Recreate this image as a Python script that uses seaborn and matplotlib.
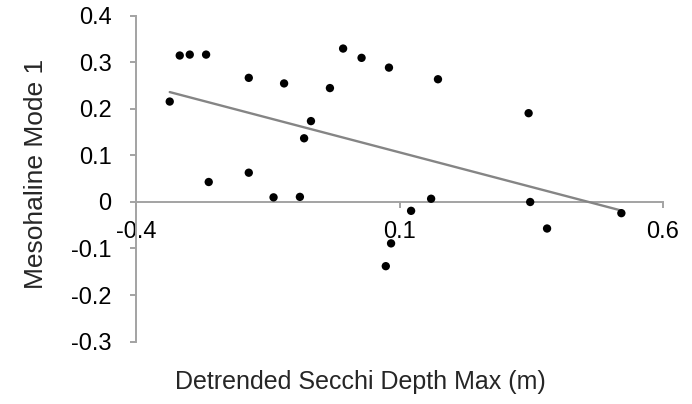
"""
Scatter of Mesohaline Mode 1 vs detrended Secchi depth max, with linear trendline.
Run: python plot.py
"""
import matplotlib
matplotlib.use("Agg")
import matplotlib.pyplot as plt
import seaborn as sns
import pandas as pd

# values
secchi_x = [-0.336, -0.317, -0.298, -0.267, -0.262, -0.186, -0.186, -0.139,
            -0.119, -0.089, -0.081, -0.068, -0.032, -0.007, 0.028, 0.080,
            0.173, 0.345, 0.160, 0.348, 0.122, 0.521, 0.380, 0.084, 0.074]
mode1_y = [0.216, 0.315, 0.317, 0.317, 0.043, 0.267, 0.063, 0.010,
           0.255, 0.011, 0.137, 0.174, 0.245, 0.330, 0.310, 0.289,
           0.264, 0.191, 0.007, 0.000, -0.019, -0.024, -0.057, -0.089, -0.138]
x_ticks = [-0.4, 0.1, 0.6]
y_ticks = [-0.3, -0.2, -0.1, 0, 0.1, 0.2, 0.3, 0.4]
x_tick_labels = ["-0.4", "0.1", "0.6"]
y_tick_labels = ["-0.3", "-0.2", "-0.1", "0", "0.1", "0.2", "0.3", "0.4"]
x_label = "Detrended Secchi Depth Max (m)"
y_label = "Mesohaline Mode 1"

df = pd.DataFrame({"x": secchi_x, "y": mode1_y})

sns.set_theme(style="white")
plt.rcParams["font.family"] = ["Liberation Sans", "DejaVu Sans"]

fig = plt.figure(figsize=(6.92, 4.04), dpi=100)
ax = fig.add_axes([136 / 692, 1 - 341.5 / 404, 527 / 692, 325.5 / 404])

# trendline (least squares fit over data range, like Excel)
sns.regplot(data=df, x="x", y="y", scatter=False, ci=None, truncate=True,
            line_kws={"color": "#858585", "lw": 1.7}, ax=ax)
sns.scatterplot(data=df, x="x", y="y", color="black", s=36, edgecolor="none",
                zorder=3, ax=ax)

ax.set_xlim(-0.4, 0.6)
ax.set_ylim(-0.3, 0.4)
ax.set_xticks(x_ticks)
ax.set_yticks(y_ticks)
ax.set_xticklabels(x_tick_labels)
ax.set_yticklabels(y_tick_labels)

for side in ["top", "right"]:
    ax.spines[side].set_visible(False)
ax.spines["bottom"].set_position(("data", 0))
for side in ["left", "bottom"]:
    ax.spines[side].set_color("#a3a3a3")
    ax.spines[side].set_linewidth(1.4)
    ax.spines[side].set_zorder(1)

ax.tick_params(axis="both", direction="out", length=4.5, width=1.4,
               color="#a3a3a3", labelsize=17, labelcolor="black")
ax.tick_params(axis="x", pad=9.5, bottom=True)
ax.tick_params(axis="y", pad=13, left=True)

ax.set_xlabel(x_label, fontsize=18)
ax.set_ylabel(y_label, fontsize=19)
ax.xaxis.set_label_coords(0.425, -0.088)
ax.yaxis.set_label_coords(-0.167, 0.516)

fig.savefig("out.png", dpi=100)
plt.close(fig)
